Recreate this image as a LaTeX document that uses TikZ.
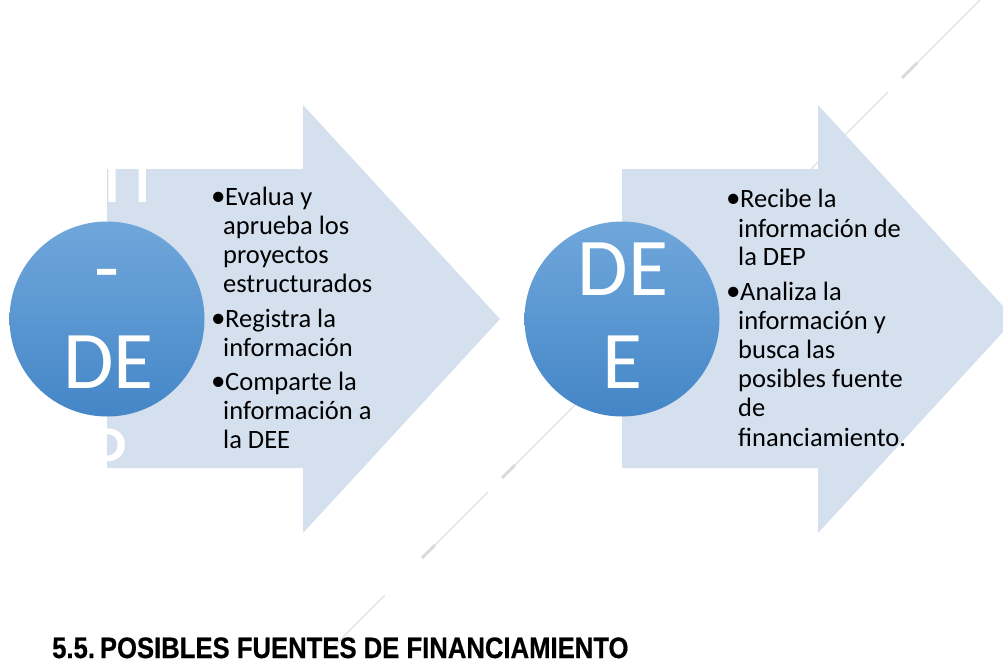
\documentclass[tikz,border=0pt]{standalone}
\usepackage{fontspec}
\setmainfont{Carlito}
\newfontfamily\headfont[FakeStretch=0.87, BoldFeatures={FakeBold=0.6}]{Liberation Sans}
\definecolor{arrowfill}{HTML}{D5E0EE}
\definecolor{circtop}{HTML}{70A7DB}
\definecolor{circbot}{HTML}{4486C7}
\definecolor{decoline}{HTML}{DADADA}
\tikzset{
  arrowshape/.style={fill=arrowfill, draw=none},
  bubble/.style={circle, minimum size=195pt, inner sep=0pt, draw=none, top color=circtop, bottom color=circbot},
  bigtxt/.style={font=\fontsize{82}{93}\selectfont, text=white, inner sep=0pt, anchor=base},
  bultxt/.style={font=\fontsize{26.5}{29}\selectfont, text=black, inner sep=0pt, anchor=base west},
  deco/.style={draw=decoline, line width=0.8pt},
  decothick/.style={draw=decoline, line width=3pt},
  headtxt/.style={font=\headfont\bfseries\fontsize{29.5}{30}\selectfont, text=black, inner sep=0pt, text depth=0pt, anchor=base west}
}
\newcommand{\bul}{\makebox[13pt][l]{\hspace{-1pt}\raisebox{-0.6pt}{\fontsize{29}{29}\selectfont •}}}
\begin{document}
\begin{tikzpicture}[x=1pt,y=-1pt]
\path[use as bounding box] (0,0) rectangle (1003,661);
\clip (0,0) rectangle (1003,661);

% faint diagonal decoration (behind everything)
\coordinate (d1) at (980,0);   \coordinate (d2) at (917,63);
\coordinate (d3) at (902,78);  \coordinate (d4) at (888,92);
\coordinate (d5) at (515,465); \coordinate (d6) at (502,478);
\coordinate (d7) at (488,492); \coordinate (d8) at (435,545);
\coordinate (d9) at (422,558); \coordinate (d10) at (385,595);
\coordinate (d11) at (325,655);
\draw[deco] (d1) -- (d2);
\draw[decothick] (d2) -- (d3);
\draw[deco] (d4) -- (d5);
\draw[decothick] (d5) -- (d6);
\draw[deco] (d7) -- (d8);
\draw[decothick] (d8) -- (d9);
\draw[deco] (d10) -- (d11);

% arrows
\fill[arrowshape] (107,169) -- (303,169) -- (303,105) -- (500,319) -- (303,533) -- (303,468) -- (107,468) -- cycle;
\fill[arrowshape] (622,169) -- (818,169) -- (818,105) -- (1015,319) -- (818,533) -- (818,468) -- (622,468) -- cycle;

% circles
\node[bubble] (c1) at (107,319) {};
\node[bubble] (c2) at (622,319) {};

% circle texts
\node[bigtxt, anchor=base west] (t1a) at (92.5,202) {TI};
\node[bigtxt] (t1b) at (107.5,295) {-};
\node[bigtxt] (t1c) at (108.5,388) {DE};
\node[bigtxt] (t1d) at (107,481) {P};
\node[bigtxt] (t2a) at (623,295) {DE};
\node[bigtxt] (t2b) at (623,388) {E};

% list 1
\node[bultxt] (a1) at (212,205) {\bul Evalua y};
\node[bultxt] (a2) at (223,234) {aprueba los};
\node[bultxt] (a3) at (223,263) {proyectos};
\node[bultxt] (a4) at (223,292) {estructurados};
\node[bultxt] (a5) at (212,327) {\bul Registra la};
\node[bultxt] (a6) at (223,356) {información};
\node[bultxt] (a7) at (212,390) {\bul Comparte la};
\node[bultxt] (a8) at (223,419) {información a};
\node[bultxt] (a9) at (223,448) {la DEE};

% list 2
\node[bultxt] (b1) at (727,207) {\bul Recibe la};
\node[bultxt] (b2) at (738,237) {información de};
\node[bultxt] (b3) at (738,265) {la DEP};
\node[bultxt] (b4) at (727,300) {\bul Analiza la};
\node[bultxt] (b5) at (738,329) {información y};
\node[bultxt] (b6) at (738,358) {busca las};
\node[bultxt] (b7) at (738,387) {posibles fuente};
\node[bultxt] (b8) at (738,416) {de};
\node[bultxt] (b9) at (738,446) {financiamiento.};

% heading
\node[headtxt] (h) at (52,658) {5.5.\,POSIBLES FUENTES DE FINANCIAMIENTO};
\end{tikzpicture}
\end{document}
